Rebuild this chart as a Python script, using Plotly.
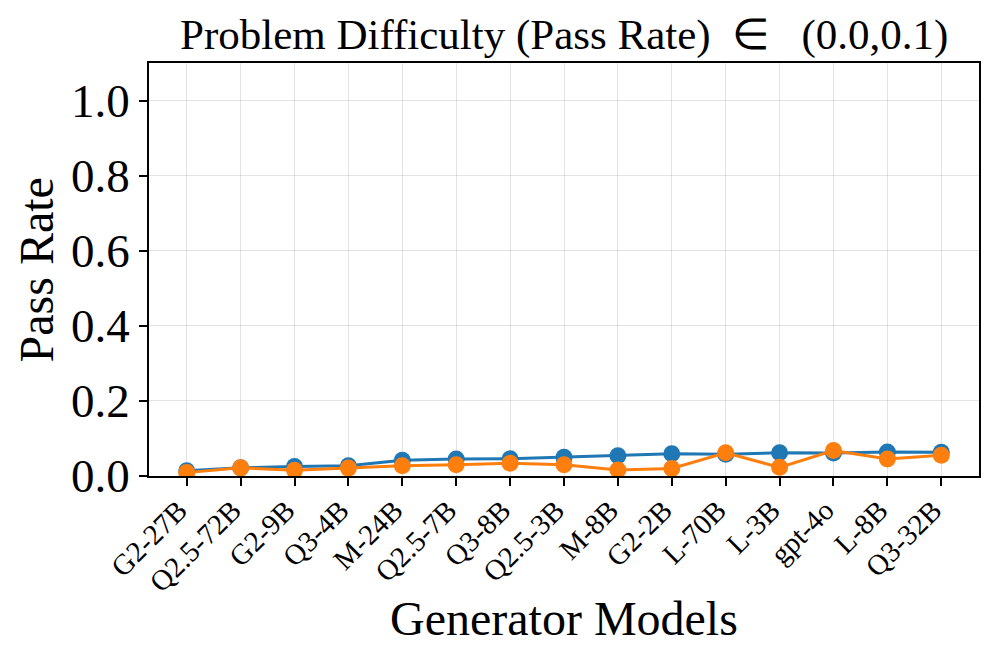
import plotly.graph_objects as go

models = ["G2-27B", "Q2.5-72B", "G2-9B", "Q3-4B", "M-24B", "Q2.5-7B", "Q3-8B", "Q2.5-3B",
          "M-8B", "G2-2B", "L-70B", "L-3B", "gpt-4o", "L-8B", "Q3-32B"]
series_blue = [0.014, 0.022, 0.025, 0.027, 0.042, 0.045, 0.046, 0.050,
               0.054, 0.059, 0.058, 0.062, 0.061, 0.064, 0.063]
series_orange = [0.009, 0.022, 0.015, 0.021, 0.027, 0.030, 0.034, 0.030,
                 0.016, 0.020, 0.062, 0.023, 0.068, 0.045, 0.055]
y_ticks = [0, 0.2, 0.4, 0.6, 0.8, 1.0]
y_tick_labels = ["0.0", "0.2", "0.4", "0.6", "0.8", "1.0"]

FONT = "Liberation Serif, Times New Roman, serif"

fig = go.Figure()
fig.add_trace(go.Scatter(x=models, y=series_blue, mode="lines+markers",
                         line=dict(color="#1f77b4", width=3),
                         marker=dict(color="#1f77b4", size=17), showlegend=False))
fig.add_trace(go.Scatter(x=models, y=series_orange, mode="lines+markers",
                         line=dict(color="#ff7f0e", width=3),
                         marker=dict(color="#ff7f0e", size=17), showlegend=False))

# page body has an 8px default margin; compensate so the plot lands where the reference has it
fig.update_layout(
    width=988, height=657,
    margin=dict(l=141, r=17, t=55, b=189, autoexpand=False),
    paper_bgcolor="white", plot_bgcolor="white",
    font=dict(family=FONT, color="black"),
    annotations=[
        dict(text="Problem Difficulty (Pass Rate)\u00a0\u00a0\u2208\u00a0\u00a0\u00a0(0.0,0.1)",
             xref="paper", yref="paper", x=0.5, y=1.067, xanchor="center", yanchor="middle",
             showarrow=False, font=dict(size=43, family=FONT, color="black")),
        dict(text="Generator Models", xref="paper", yref="paper", x=0.5, y=-0.345,
             xanchor="center", yanchor="middle", showarrow=False,
             font=dict(size=48, family=FONT, color="black")),
        dict(text="Pass Rate", xref="paper", yref="paper", x=-0.135, y=0.5,
             xanchor="center", yanchor="middle", textangle=-90, showarrow=False,
             font=dict(size=48, family=FONT, color="black")),
    ],
)
fig.update_xaxes(
    type="category", range=[-0.7, 14.7], automargin=False,
    tickangle=-45, tickfont=dict(size=29, family=FONT),
    ticklabelstandoff=-4, ticklabelshift=-8,
    ticks="outside", ticklen=8, tickwidth=1.5, tickcolor="black",
    showline=True, linecolor="black", linewidth=1.5, mirror=True,
    showgrid=True, gridcolor="rgba(0,0,0,0.11)", gridwidth=1.3,
)
fig.update_yaxes(
    range=[0, 1.1], tickvals=y_ticks, ticktext=y_tick_labels, automargin=False,
    tickfont=dict(size=47, family=FONT),
    ticks="outside", ticklen=8, tickwidth=1.5, tickcolor="black",
    showline=True, linecolor="black", linewidth=1.5, mirror=True,
    showgrid=True, gridcolor="rgba(0,0,0,0.11)", gridwidth=1.3, zeroline=False,
)

fig.write_html("out.html")
